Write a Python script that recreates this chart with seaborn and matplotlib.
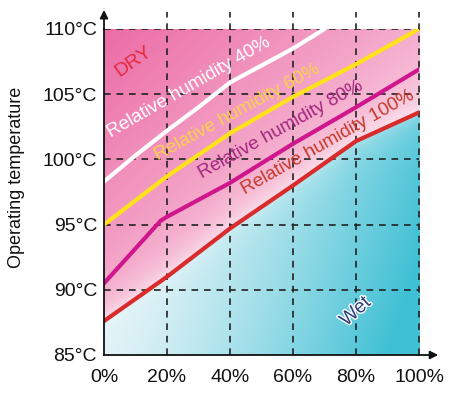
import numpy as np
import pandas as pd
import matplotlib
matplotlib.use("Agg")
import matplotlib.pyplot as plt
import matplotlib.patheffects as pe
import seaborn as sns

# humidity curves (x = %, y = degC)
rh40_x = [0, 10, 20, 30, 40, 50, 60, 70]
rh40_y = [98.3, 100.3, 102.2, 104.0, 105.9, 107.2, 108.5, 110.0]
rh60_x = [0, 20, 40, 60, 80, 100]
rh60_y = [95.0, 98.7, 102.0, 104.8, 107.3, 110.0]
rh80_x = [0, 18, 20, 40, 60, 80, 100]
rh80_y = [90.5, 95.3, 95.6, 98.2, 101.2, 104.0, 106.9]
rh100_x = [0, 20, 40, 60, 80, 100]
rh100_y = [87.6, 91.0, 94.7, 98.0, 101.4, 103.6]

x_ticks = [0, 20, 40, 60, 80, 100]
x_ticklabels = ["0%", "20%", "40%", "60%", "80%", "100%"]
y_ticks = [85, 90, 95, 100, 105, 110]
y_ticklabels = ["85°C", "90°C", "95°C", "100°C", "105°C", "110°C"]

series = ["Relative humidity 40%", "Relative humidity 60%",
          "Relative humidity 80%", "Relative humidity 100%"]
line_colors = ["#ffffff", "#ffe21a", "#d0168c", "#d92b2b"]
text_colors = ["#ffffff", "#fbd24e", "#a3267f", "#c43a2a"]

df = pd.concat([
    pd.DataFrame({"rh": x, "temp": y, "curve": name})
    for x, y, name in zip([rh40_x, rh60_x, rh80_x, rh100_x],
                          [rh40_y, rh60_y, rh80_y, rh100_y], series)
])

sns.set_theme(style="white")
plt.rcParams["font.family"] = ["Liberation Sans", "DejaVu Sans"]

fig = plt.figure(figsize=(4.66, 3.99), dpi=100)
ax = fig.add_axes([104 / 466, 1 - 355 / 399, 315 / 466, 326 / 399])

# background gradient: pink above the 100% line, cyan below
gx = np.linspace(0, 100, 400)
gy = np.linspace(85, 110, 400)
X, Y = np.meshgrid(gx, gy)
d = Y - np.interp(X, rh100_x, rh100_y)

pink_dark = np.array([236, 108, 166]) / 255
pink_light = np.array([252, 228, 238]) / 255
s = np.clip(0.55 * X / 100 + 0.6 * (110 - Y) / 25, 0, 1)[..., None]
pink = pink_dark + (pink_light - pink_dark) * s
w = (np.exp(-np.clip(d, 0, None) / 1.5) * 0.7)[..., None]
pink = pink + (np.array([253, 242, 246]) / 255 - pink) * w

cy_dark = np.array([63, 192, 212]) / 255
cy_light = np.array([226, 243, 247]) / 255
u = np.clip(0.85 * X / 100 + 0.2 * np.clip(-d, 0, None) / 15, 0, 1) ** 1.4
u = u[..., None]
cyan = cy_light + (cy_dark - cy_light) * u
wc = (np.exp(-np.clip(-d, 0, None) / 1.0) * 0.35)[..., None]
cyan = cyan + (np.array([240, 249, 251]) / 255 - cyan) * wc

img = np.where((d >= 0)[..., None], pink, cyan)
ax.imshow(img, extent=[0, 100, 85, 110], origin="lower", aspect="auto", zorder=0)

# dashed grid
for gxv in x_ticks[1:]:
    ax.plot([gxv, gxv], [85, 111.3], ls=(0, (4, 3.5)), color="#222222",
            lw=1.2, clip_on=False, zorder=1)
for gyv in y_ticks[1:]:
    ax.plot([0, 100], [gyv, gyv], ls=(0, (4, 3.5)), color="#222222",
            lw=1.2, zorder=1)

sns.lineplot(data=df, x="rh", y="temp", hue="curve", palette=line_colors,
             hue_order=series, lw=3, legend=False, ax=ax, zorder=3,
             estimator=None, sort=False)

ax.set_xlim(0, 100)
ax.set_ylim(85, 110)
ax.set_xticks(x_ticks)
ax.set_xticklabels(x_ticklabels)
ax.set_yticks(y_ticks)
ax.set_yticklabels(y_ticklabels)
ax.tick_params(axis="both", length=0, labelsize=14, colors="#111111")
ax.tick_params(axis="x", pad=10)
ax.tick_params(axis="y", pad=5)
ax.set_xlabel("")
ax.set_ylabel("")
for sp in ["top", "right"]:
    ax.spines[sp].set_visible(False)
for sp in ["left", "bottom"]:
    ax.spines[sp].set_color("#111111")
    ax.spines[sp].set_linewidth(1.3)
    ax.spines[sp].set_zorder(4)

# axis arrows
ax.annotate("", xy=(0, 1.067), xytext=(0, 0.99), xycoords="axes fraction",
            arrowprops=dict(arrowstyle="-|>", color="#111111", lw=1.3,
                            mutation_scale=12), annotation_clip=False)
ax.annotate("", xy=(1.07, 0), xytext=(0.99, 0), xycoords="axes fraction",
            arrowprops=dict(arrowstyle="-|>", color="#111111", lw=1.3,
                            mutation_scale=12), annotation_clip=False)

fig.text(17 / 466, 1 - 177 / 399, "Operating temperature", rotation=90,
         ha="center", va="center", fontsize=13, color="#111111")

# curve labels
label_pos = [(27.0, 105.5, 30), (42.3, 103.6, 28.5), (56.3, 102.3, 29), (71.0, 101.3, 29.5)]
for (lx, ly, rot), name, c in zip(label_pos, series, text_colors):
    ax.text(lx, ly, name, rotation=rot, rotation_mode="anchor", ha="center",
            va="center", fontsize=13.5, color=c, zorder=5)

ax.text(9.5, 107.5, "DRY", rotation=35, rotation_mode="anchor", ha="center",
        va="center", fontsize=14, color="#e5283c", zorder=5)
ax.text(80, 88.3, "Wet", rotation=42, rotation_mode="anchor", ha="center",
        va="center", fontsize=14, color="#2b3f7e", zorder=5,
        path_effects=[pe.withStroke(linewidth=2, foreground="white")])

fig.savefig("out.png", dpi=100)
